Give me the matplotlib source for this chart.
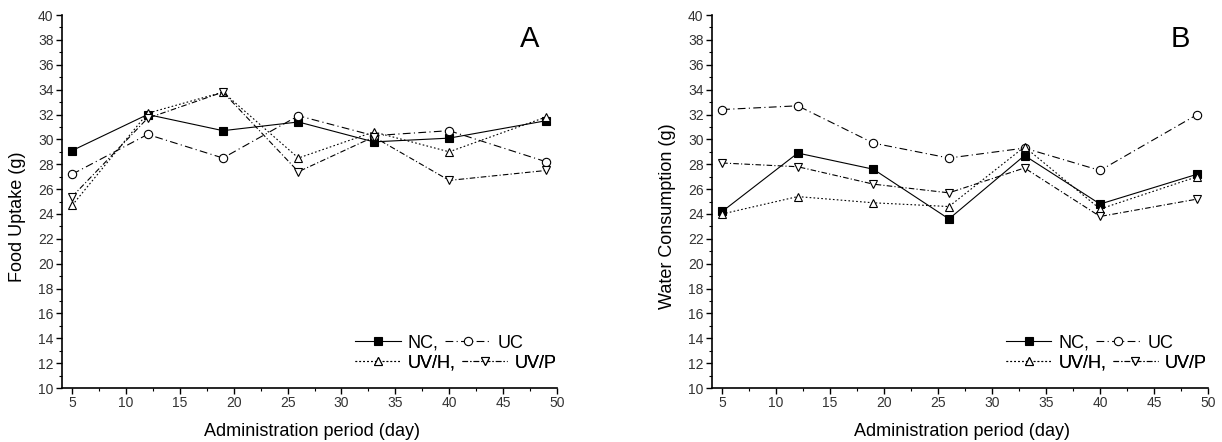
import matplotlib.pyplot as plt
from matplotlib.ticker import MultipleLocator

plt.rcParams['font.family'] = ['Liberation Sans', 'DejaVu Sans']

# Дни введения
days = [5, 12, 19, 26, 33, 40, 49]

# Панель A: потребление корма (g)
food_nc = [29.1, 32.0, 30.7, 31.4, 29.8, 30.1, 31.5]
food_uc = [27.2, 30.4, 28.5, 31.9, 30.3, 30.7, 28.2]
food_uvh = [24.7, 32.1, 33.8, 28.5, 30.6, 29.0, 31.8]
food_uvp = [25.4, 31.7, 33.8, 27.4, 30.2, 26.7, 27.5]

# Панель B: потребление воды (g)
water_nc = [24.2, 28.9, 27.6, 23.6, 28.7, 24.8, 27.2]
water_uc = [32.4, 32.7, 29.7, 28.5, 29.3, 27.5, 32.0]
water_uvh = [24.0, 25.4, 24.9, 24.6, 29.4, 24.4, 27.0]
water_uvp = [28.1, 27.8, 26.4, 25.7, 27.7, 23.8, 25.2]

labels = ['NC,', 'UC', 'UV/H,', 'UV/P']
styles = [
    dict(marker='s', linestyle='-', markerfacecolor='black'),
    dict(marker='o', linestyle=(0, (7, 3, 1, 3)), markerfacecolor='white'),
    dict(marker='^', linestyle=(0, (1.5, 2)), markerfacecolor='white'),
    dict(marker='v', linestyle=(0, (5, 2, 1, 2)), markerfacecolor='white'),
]

fig = plt.figure(figsize=(12.22, 4.42), dpi=100)
ax_a = fig.add_axes([0.0507, 0.122, 0.405, 0.844])
ax_b = fig.add_axes([0.5826, 0.122, 0.406, 0.844])

panels = [
    (ax_a, [food_nc, food_uc, food_uvh, food_uvp], 'Food Uptake (g)', 'A'),
    (ax_b, [water_nc, water_uc, water_uvh, water_uvp], 'Water Consumption (g)', 'B'),
]

for ax, series, ylabel, letter in panels:
    lines = []
    for vals, st in zip(series, styles):
        (ln,) = ax.plot(days, vals, color='black', linewidth=0.8,
                        markersize=6, markeredgecolor='black',
                        markeredgewidth=0.8, **st)
        lines.append(ln)

    ax.set_xlim(4.05, 50)
    ax.set_ylim(10, 40)
    ax.xaxis.set_major_locator(MultipleLocator(5))
    ax.xaxis.set_minor_locator(MultipleLocator(2.5))
    ax.yaxis.set_major_locator(MultipleLocator(2))
    ax.yaxis.set_minor_locator(MultipleLocator(1))
    ax.spines['top'].set_visible(False)
    ax.spines['right'].set_visible(False)
    ax.spines['left'].set_linewidth(1.2)
    ax.spines['bottom'].set_linewidth(1.2)
    ax.tick_params(which='major', direction='out', length=4, width=1,
                   labelsize=10, labelcolor='#333333', pad=2)
    ax.tick_params(which='minor', direction='out', length=2.5, width=0.8)

    ax.set_xlabel('Administration period (day)', fontsize=13)
    ax.set_ylabel(ylabel, fontsize=13)
    ax.xaxis.set_label_coords(0.505, -0.093)
    ax.yaxis.set_label_coords(-0.072, 0.46)
    ax.text(0.945, 0.935, letter, transform=ax.transAxes, fontsize=21,
            ha='center', va='center')

    # легенда: каждая строка отдельно, как в оригинале
    rows = [([lines[0], lines[1]], labels[0:2], 0.12),
            ([lines[2], lines[3]], labels[2:4], 0.067)]
    for handles, labs, ypos in rows:
        leg = ax.legend(handles, labs, ncol=2, loc='center left',
                        bbox_to_anchor=(0.593, ypos), frameon=False,
                        fontsize=13, handlelength=2.5, handletextpad=0.4,
                        columnspacing=0.35, borderpad=0, borderaxespad=0)
        ax.add_artist(leg)

fig.savefig('out.png', dpi=100)
